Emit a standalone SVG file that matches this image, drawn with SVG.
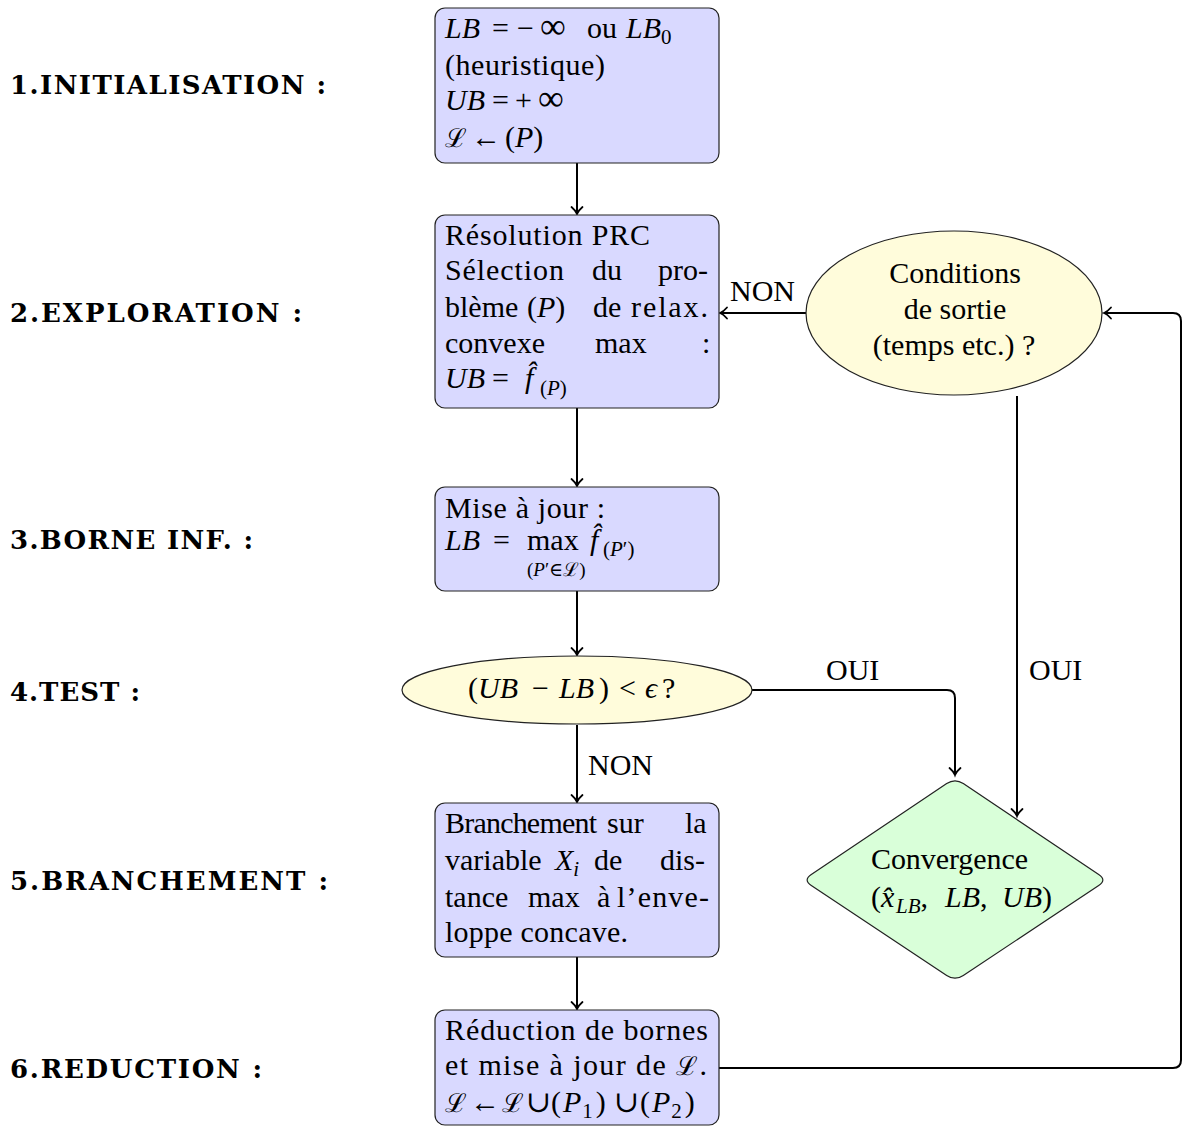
<svg xmlns="http://www.w3.org/2000/svg" width="1183" height="1127" viewBox="0 0 1183 1127">
<style>
.lbl{font-family:"DejaVu Serif","Liberation Serif",serif;font-weight:bold;font-size:26px;fill:#000}
.t{font-family:"Liberation Serif","DejaVu Serif",serif;font-size:30px;fill:#000}
.sm{font-size:21px}
.xs{font-size:19px}
.m{font-style:italic}
.cal{font-size:26px}
.inf{font-size:36px}
.box{fill:#D9D9FF;stroke:#222;stroke-width:1.2}
.yel{fill:#FFFCDB;stroke:#222;stroke-width:1.2}
.grn{fill:#D9FFD9;stroke:#222;stroke-width:1.2}
.c{fill:none;stroke:#000;stroke-width:2;marker-end:url(#arr)}
.mid{text-anchor:middle}
</style>
<defs>
<marker id="arr" markerUnits="userSpaceOnUse" markerWidth="16" markerHeight="16" viewBox="-10 -8 12 16" refX="0" refY="0" orient="auto">
<path d="M-7,-5.5 C-4,-2 -1.5,-0.5 0,0 C-1.5,0.5 -4,2 -7,5.5" fill="none" stroke="#000" stroke-width="1.8" stroke-linecap="round"/>
</marker>
</defs>
<rect width="1183" height="1127" fill="#fff"/>

<g id="labels">
<text class="lbl" x="10" y="94" textLength="316">1.INITIALISATION :</text>
<text class="lbl" x="10" y="322" textLength="292">2.EXPLORATION :</text>
<text class="lbl" x="10" y="549" textLength="243">3.BORNE INF. :</text>
<text class="lbl" x="10" y="701" textLength="130">4.TEST :</text>
<text class="lbl" x="10" y="890" textLength="318">5.BRANCHEMENT :</text>
<text class="lbl" x="10" y="1078" textLength="252">6.REDUCTION :</text>
</g>

<g id="connectors">
<path class="c" d="M577,163 V214"/>
<path class="c" d="M577,408 V486"/>
<path class="c" d="M577,591 V655"/>
<path class="c" d="M577,725 V802"/>
<path class="c" d="M577,957 V1009"/>
<path class="c" d="M807,313 H720"/>
<path class="c" d="M752,690 H947 Q955,690 955,698 V775"/>
<path class="c" d="M1017,396 V816"/>
<path class="c" d="M719,1068 H1173 Q1181,1068 1181,1060 V321 Q1181,313 1173,313 H1104"/>
<text class="t" x="730" y="301">NON</text>
<text class="t" x="588" y="775">NON</text>
<text class="t" x="826" y="680">OUI</text>
<text class="t" x="1029" y="680">OUI</text>
</g>

<g id="n1">
<rect class="box" x="435" y="8" width="284" height="155" rx="10"/>
<text class="t" y="38"><tspan class="m" x="445">LB</tspan><tspan x="492">=</tspan><tspan x="517">−</tspan><tspan class="inf" x="540">∞</tspan><tspan x="587">ou</tspan><tspan class="m" x="626">LB</tspan><tspan class="sm" dy="6">0</tspan></text>
<text class="t" x="445" y="75" textLength="160">(heuristique)</text>
<text class="t" y="110"><tspan class="m" x="445">UB</tspan><tspan x="492">=</tspan><tspan x="515">+</tspan><tspan class="inf" x="538">∞</tspan></text>
<text class="t" y="147"><tspan class="cal" x="445">ℒ</tspan><tspan x="471">←</tspan><tspan x="505">(</tspan><tspan class="m">P</tspan>)</text>
</g>

<g id="n2">
<rect class="box" x="435" y="215" width="284" height="193" rx="10"/>
<text class="t" x="445" y="245" textLength="205">Résolution PRC</text>
<text class="t" x="445" y="280" textLength="119">Sélection</text>
<text class="t" x="592" y="280">du</text>
<text class="t" x="658" y="280">pro-</text>
<text class="t" x="445" y="317">blème</text>
<text class="t" x="527" y="317">(<tspan class="m">P</tspan>)</text>
<text class="t" x="593" y="317">de</text>
<text class="t" x="631" y="317" textLength="77">relax.</text>
<text class="t" x="445" y="353">convexe</text>
<text class="t" x="595" y="353">max</text>
<text class="t" x="702" y="353">:</text>
<text class="t" y="388"><tspan class="m" x="445">UB</tspan><tspan x="492">=</tspan><tspan class="m" x="525">f̂</tspan><tspan class="sm" x="540" dy="7">(<tspan class="m">P</tspan>)</tspan></text>
</g>

<g id="n3">
<rect class="box" x="435" y="487" width="284" height="104" rx="10"/>
<text class="t" x="445" y="518" textLength="160">Mise à jour :</text>
<text class="t" y="550"><tspan class="m" x="445">LB</tspan><tspan x="493">=</tspan><tspan x="527">max</tspan><tspan class="m" x="590">f̂</tspan><tspan class="sm" x="603" dy="6">(<tspan class="m">P</tspan>′)</tspan></text>
<text class="t xs" x="527" y="576">(<tspan class="m">P</tspan>′∈ℒ)</text>
</g>

<g id="n4">
<ellipse class="yel" cx="577" cy="690" rx="175" ry="34"/>
<text class="t" y="698"><tspan x="468">(</tspan><tspan class="m" x="478">UB</tspan><tspan x="532">−</tspan><tspan class="m" x="559">LB</tspan><tspan x="599">)</tspan><tspan x="619">&lt;</tspan><tspan class="m" x="645">ϵ</tspan><tspan x="662">?</tspan></text>
</g>

<g id="n5">
<rect class="box" x="435" y="803" width="284" height="154" rx="10"/>
<text class="t" x="445" y="833" textLength="152">Branchement</text>
<text class="t" x="607" y="833">sur</text>
<text class="t" x="685" y="833">la</text>
<text class="t" x="445" y="870">variable</text>
<text class="t m" x="555" y="870">X<tspan class="sm" dy="6">i</tspan></text>
<text class="t" x="594" y="870">de</text>
<text class="t" x="660" y="870">dis-</text>
<text class="t" x="445" y="907">tance</text>
<text class="t" x="528" y="907">max</text>
<text class="t" x="597" y="907">à</text>
<text class="t" x="617" y="907" textLength="92">l’enve-</text>
<text class="t" x="445" y="942" textLength="183">loppe concave.</text>
</g>

<g id="n6">
<rect class="box" x="435" y="1010" width="284" height="115" rx="10"/>
<text class="t" x="445" y="1040" textLength="263">Réduction de bornes</text>
<text class="t" x="445" y="1075" textLength="262">et mise à jour de <tspan class="cal">ℒ</tspan>.</text>
<text class="t" y="1112"><tspan class="cal" x="445">ℒ</tspan><tspan x="470">←</tspan><tspan class="cal" x="502">ℒ</tspan><tspan x="526">∪</tspan><tspan x="551">(</tspan><tspan class="m" dx="2">P</tspan><tspan class="sm" dx="1" dy="6">1</tspan><tspan dx="3" dy="-6">)</tspan><tspan x="614">∪</tspan><tspan x="640">(</tspan><tspan class="m" dx="2">P</tspan><tspan class="sm" dx="1" dy="6">2</tspan><tspan dx="3" dy="-6">)</tspan></text>
</g>

<g id="n7">
<ellipse class="yel" cx="954" cy="313" rx="148" ry="82"/>
<text class="t mid" x="955" y="283">Conditions</text>
<text class="t mid" x="955" y="319">de sortie</text>
<text class="t mid" x="954" y="355">(temps etc.) ?</text>
</g>

<g id="n8">
<path class="grn" d="M946.7,783.6 Q955,778 963.3,783.6 L1098.7,874.4 Q1107,880 1098.7,885.6 L963.3,975.4 Q955,981 946.7,975.4 L811.3,885.6 Q803,880 811.3,874.4 Z"/>
<text class="t" x="871" y="869" textLength="157">Convergence</text>
<text class="t" y="907"><tspan x="871">(</tspan><tspan class="m" x="881">x̂</tspan><tspan class="sm m" x="896" dy="6">LB</tspan><tspan dy="-6">,</tspan><tspan class="m" x="945">LB</tspan>,<tspan class="m" x="1002">UB</tspan>)</text>
</g>
</svg>
